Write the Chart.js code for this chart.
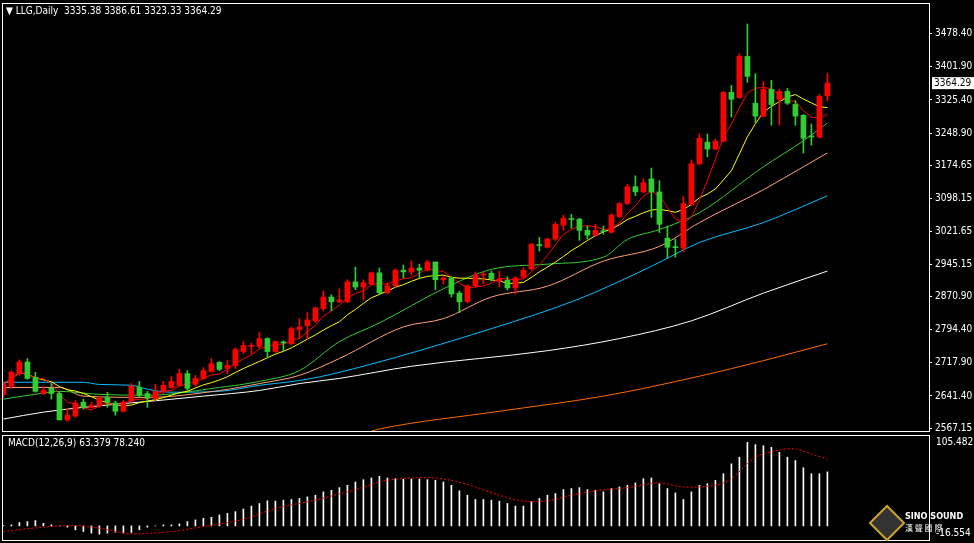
<!DOCTYPE html>
<html>
<head>
<meta charset="utf-8">
<script src="https://cdn.jsdelivr.net/npm/chart.js@4.4.1/dist/chart.umd.min.js"></script>
<style>
  html, body { margin: 0; padding: 0; background: #000; width: 974px; height: 543px; overflow: hidden; }
  canvas { position: absolute; left: 0; }
  .txt { position: absolute; color: #fff; font: 10px "DejaVu Sans Condensed", "Liberation Sans", sans-serif; white-space: pre; }
  #logo { position: absolute; left: 874px; top: 510px; width: 22px; height: 22px; transform: rotate(45deg);
          border: 2px solid #c9a227; background: #333; }
</style>
</head>
<body>
<canvas id="main" width="974" height="445" style="top:-5px"></canvas>
<canvas id="macd" width="974" height="108" style="top:435px"></canvas>
<div class="txt" style="left:6px;top:5px">▼ LLG,Daily  3335.38 3386.61 3323.33 3364.29</div>
<div class="txt" style="left:8px;top:437px">MACD(12,26,9) 63.379 78.240</div>
<div class="txt" style="left:936px;top:436px">105.482</div>
<div class="txt" style="left:936px;top:527px">-16.554</div>
<div id="logo"></div>
<div class="txt" style="left:905px;top:511px;font-weight:bold;font-size:9px">SINO SOUND</div>
<div class="txt" style="left:905px;top:522px;font-size:8px;font-family:'Noto Sans CJK SC'">漢 聲 國 際</div>
<script>
// Candles (daily OHLC)
const opens = [2645,2664,2693,2720,2684,2647,2659,2647,2586,2595,2627,2615,2620,2638,2625,2606,2629,2661,2647,2636,
  2652,2661,2666,2693,2668,2682,2698,2719,2705,2712,2744,2756,2756,2774,2744,2765,2762,2795,2804,2815,
  2843,2870,2859,2859,2905,2893,2900,2926,2880,2896,2932,2928,2937,2932,2951,2910,2914,2879,2859,2896,
  2921,2925,2907,2909,2891,2916,2935,2990,2985,3004,3036,3050,3050,3024,3013,3022,3020,3056,3086,3125,
  3113,3143,3113,3006,2985,2983,3084,3178,3228,3212,3230,3343,3331,3426,3318,3288,3350,3327,3345,3315,
  3290,3242,3240,3335.38];
const closes = [2668,2696,2720,2682,2652,2654,2647,2586,2597,2625,2615,2620,2636,2627,2606,2627,2664,2643,2636,2652,
  2666,2675,2693,2659,2682,2700,2716,2703,2712,2749,2758,2758,2774,2744,2767,2764,2797,2801,2817,2845,
  2870,2859,2863,2905,2893,2903,2926,2880,2896,2932,2928,2937,2932,2951,2910,2914,2877,2859,2896,2921,
  2923,2912,2912,2891,2914,2932,2992,2989,3004,3038,3052,3049,3024,3013,3024,3021,3059,3086,3125,3113,
  3134,3113,3038,2985,2984,3086,3178,3237,3212,3230,3343,3327,3426,3380,3288,3350,3315,3345,3318,3288,
  3237,3240,3334,3364.29];
const highs = [2673,2700,2725,2728,2696,2664,2670,2652,2613,2631,2634,2627,2641,2650,2629,2631,2670,2675,2652,2668,
  2675,2687,2703,2700,2689,2707,2728,2721,2723,2753,2767,2763,2788,2776,2769,2769,2801,2820,2834,2847,
  2884,2875,2889,2910,2939,2910,2928,2937,2903,2935,2944,2953,2946,2955,2951,2917,2917,2884,2898,2928,
  2928,2930,2930,2917,2917,2937,2994,3008,3006,3043,3059,3061,3052,3034,3038,3034,3063,3088,3130,3150,
  3143,3168,3139,3034,3004,3102,3187,3247,3247,3235,3345,3359,3432,3501,3386,3368,3371,3350,3352,3324,
  3292,3270,3338,3386.61];
const lows = [2636,2659,2689,2680,2650,2645,2634,2586,2583,2592,2611,2613,2615,2615,2597,2604,2627,2638,2615,2631,
  2647,2659,2664,2654,2664,2680,2696,2700,2693,2705,2739,2739,2751,2730,2742,2746,2760,2774,2774,2811,
  2838,2838,2857,2857,2887,2863,2898,2877,2877,2893,2914,2921,2914,2930,2887,2900,2870,2834,2857,2893,
  2900,2907,2893,2886,2877,2912,2932,2976,2983,3001,3024,3029,3001,3004,3011,3015,3017,3054,3084,3104,
  3111,3054,3019,2960,2962,2974,3081,3175,3194,3210,3228,3286,3329,3366,3272,3286,3267,3267,3315,3267,
  3203,3221,3237,3323.33];

// Longer moving averages, read as points [index, price]
const ma20Pts = [[0,2634],[5,2648],[7,2652],[12,2645],[18,2643],[27,2661],[32,2675],[37,2700],[42,2767],[47,2810],
  [55,2889],[61,2934],[68,2946],[75,2962],[78,3003],[82,3026],[87,3065],[95,3171],[100,3231],[103,3272]];
const ma30Pts = [[0,2661],[7,2661],[10,2641],[18,2638],[27,2654],[32,2670],[37,2689],[42,2728],[50,2801],[55,2820],
  [61,2870],[68,2895],[75,2953],[82,2987],[87,3042],[95,3118],[100,3171],[103,3203]];
const ma60Pts = [[0,2673],[10,2673],[12,2668],[16,2666],[18,2657],[21,2650],[27,2652],[32,2666],[37,2677],[42,2696],
  [61,2797],[72,2866],[81,2941],[87,2996],[95,3042],[103,3104]];
const ma120Pts = [[0,2588],[5,2604],[10,2615],[20,2632],[25,2641],[32,2654],[37,2670],[42,2682],[51,2710],[68,2746],
  [77,2774],[86,2815],[95,2879],[103,2930]];
const ma250Pts = [[46,2560],[47,2565],[62,2606],[75,2641],[87,2687],[95,2723],[103,2762]];

// MACD histogram and signal
const macdVals = [0.5,1.2,3.9,5.0,6.2,3.1,1.2,0,-1.5,-4.6,-6.6,-8.5,-9.7,-8.5,-7.4,-8.5,-7.7,-4.6,-1.5,0,
  1.2,1.2,2.3,5.0,7.0,8.9,10.1,12.8,14.7,16.7,19.8,23.2,26.3,29.4,29.1,30.2,31.0,32.2,34.1,36.0,
  39.9,41.8,44.9,47.6,51.5,54.2,56.2,58.1,56.2,55.4,54.6,55,55,54.2,53.5,51.5,47.6,41.1,36,31,
  31,30.2,29.1,26.3,23.2,23.2,28.3,32.2,36,38,42.6,43.8,44.9,42.6,41.8,39.9,43.8,45.7,47.6,50.4,
  55.4,56.2,49.6,43.8,38.7,31,39.9,47.6,49.6,53.5,61.2,72.8,80.6,98,95.3,94.1,92.2,86.4,80.6,76.7,
  68.2,61.2,61.2,63.379];
const signalPts = [[0,-6.6],[5,-1.5],[9,0.4],[12,-2.7],[16,-9.3],[21,-6.6],[25,-0.8],[30,7.7],[34,20.5],[39,30.2],
  [44,42.6],[48,53.5],[53,56.6],[56,53.5],[59,45.7],[62,36],[65,29.1],[68,29.4],[71,36],[74,41.1],
  [78,44.9],[82,50.4],[85,45.7],[89,47.6],[91,55.4],[94,80.6],[97,89.1],[99,90.3],[101,84.5],[103,78.24]];

const priceTicks = [3478.40,3401.90,3325.40,3248.90,3174.65,3098.15,3021.65,2945.15,2870.90,2794.40,2717.90,2641.40,2567.15];
const lastPrice = 3364.29;

const UP = '#ff0000', DOWN = '#32cd32';
const idx = opens.map((_, i) => i);
const candleColors = idx.map(i => closes[i] >= opens[i] ? UP : DOWN);

function sma(n) {
  return idx.map(i => {
    const s = closes.slice(Math.max(0, i - n + 1), i + 1);
    return { x: i, y: s.reduce((a, b) => a + b, 0) / s.length };
  });
}
const toXY = pts => pts.map(p => ({ x: p[0], y: p[1] }));
const line = (data, color, extra) => Object.assign({ type: 'line', data, borderColor: color, borderWidth: 1,
  pointRadius: 0, tension: 0, order: 2 }, extra || {});
const smooth = { cubicInterpolationMode: 'monotone' };

const frame = {
  id: 'frame',
  afterDraw(chart) {
    const a = chart.chartArea, c = chart.ctx;
    c.save();
    c.strokeStyle = '#fff'; c.lineWidth = 1;
    c.strokeRect(a.left - 0.5, a.top - 0.5, a.right - a.left + 1, a.bottom - a.top + 1);
    if (chart.canvas.id === 'main') {
      const y = chart.scales.y.getPixelForValue(lastPrice);
      c.fillStyle = '#fff';
      c.fillRect(a.right + 3, y - 6, 42, 12);
      c.fillStyle = '#000';
      c.font = '10px "DejaVu Sans Condensed", sans-serif';
      c.textBaseline = 'middle';
      c.fillText(lastPrice.toFixed(2), a.right + 5, y + 0.5);
    }
    c.restore();
  }
};

Chart.defaults.animation = false;
Chart.defaults.font.family = '"DejaVu Sans Condensed", "Liberation Sans", sans-serif';
Chart.defaults.font.size = 10;

new Chart(document.getElementById('main'), {
  type: 'bar',
  data: {
    datasets: [
      line(sma(5), '#ff0000'),
      line(sma(10), '#ffff00'),
      line(toXY(ma20Pts), '#32cd32', smooth),
      line(toXY(ma30Pts), '#ffa07a', smooth),
      line(toXY(ma60Pts), '#00bfff', smooth),
      line(toXY(ma120Pts), '#ffffff', smooth),
      line(toXY(ma250Pts), '#ff6a00', smooth),
      { type: 'bar', data: idx.map(i => ({ x: i, y: [lows[i], highs[i]] })), backgroundColor: candleColors,
        barThickness: 1, grouped: false, order: 1 },
      { type: 'bar', data: idx.map(i => ({ x: i, y: [opens[i], closes[i]] })), backgroundColor: candleColors,
        barThickness: 5, minBarLength: 1, grouped: false, order: 0 }
    ]
  },
  options: {
    responsive: false, devicePixelRatio: 1,
    layout: { padding: { left: 3, top: 3, bottom: 0, right: 0 } },
    plugins: { legend: { display: false }, tooltip: { enabled: false } },
    scales: {
      x: { type: 'linear', min: -0.05, max: 115.7, display: false, offset: false },
      y: {
        position: 'right', min: 2560.4, max: 3547.2,
        afterBuildTicks: s => { s.ticks = priceTicks.map(v => ({ value: v })); },
        afterFit: s => { s.width = 45; },
        ticks: { color: '#fff', padding: 3, callback: v => Number(v).toFixed(2) },
        grid: { drawOnChartArea: false, color: '#fff', tickLength: 3 },
        border: { color: '#fff' }
      }
    }
  },
  plugins: [frame]
});

new Chart(document.getElementById('macd'), {
  type: 'bar',
  data: {
    datasets: [
      line(toXY(signalPts), '#ff0000', { borderDash: [2, 2], tension: 0.3, order: 0 }),
      { type: 'bar', data: idx.map(i => ({ x: i, y: macdVals[i] })), backgroundColor: '#ffffff',
        barThickness: 1, order: 1 }
    ]
  },
  options: {
    responsive: false, devicePixelRatio: 1,
    layout: { padding: { left: 3, top: 1, bottom: 3, right: 0 } },
    plugins: { legend: { display: false }, tooltip: { enabled: false } },
    scales: {
      x: { type: 'linear', min: -0.05, max: 115.7, display: false, offset: false },
      y: {
        position: 'right', min: -16.554, max: 105.482,
        afterFit: s => { s.width = 45; },
        ticks: { display: false },
        grid: { display: false },
        border: { color: '#fff' }
      }
    }
  },
  plugins: [frame]
});
</script>
</body>
</html>
